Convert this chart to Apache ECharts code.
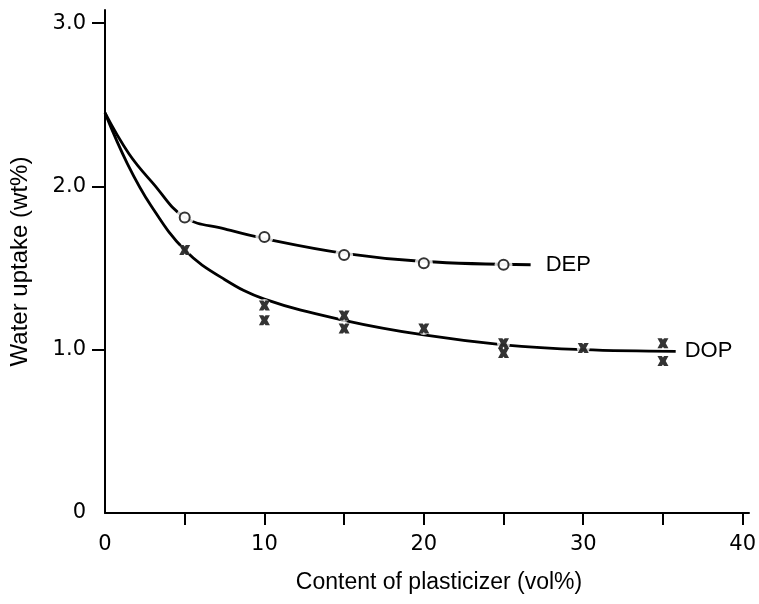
<!DOCTYPE html>
<html>
<head>
<meta charset="utf-8">
<script src="https://cdn.jsdelivr.net/npm/echarts@6/dist/echarts.min.js"></script>
<style>html,body{margin:0;padding:0;background:#fff;}#c{width:759px;height:604px;}</style>
</head>
<body>
<div id="c"></div>
<script>
// Measured points
const depX = [5, 10, 15, 20, 25];
const depY = [1.81, 1.69, 1.58, 1.53, 1.52];
const dopX = [5, 10, 10, 15, 15, 20, 25, 25, 30, 35, 35];
const dopY = [1.61, 1.27, 1.18, 1.21, 1.13, 1.13, 1.04, 0.98, 1.01, 1.04, 0.93];
// Hand-drawn fitted curves
const depCurveX = [0, 1.5, 3, 5, 7.5, 10, 15, 20, 26.7];
const depCurveY = [2.45, 2.20, 2.02, 1.81, 1.74, 1.68, 1.59, 1.54, 1.52];
const dopCurveX = [0, 1.4, 2.9, 5, 7.5, 10, 15, 20, 25, 30, 35.8];
const dopCurveY = [2.45, 2.14, 1.88, 1.61, 1.43, 1.31, 1.18, 1.09, 1.03, 1.00, 0.99];
// Axis ticks / labels
const xTicks = [5, 10, 15, 20, 25, 30, 35, 40];
const xLabels = [0, 10, 20, 30, 40];
const yTicks = [1, 2, 3];
const yLabels = [0, 1, 2, 3];

const zip = (a, b) => a.map((v, i) => [v, b[i]]);
const crossPath = 'path://M0,0 L4,0 L5,1.5 L6,0 L10,0 L7.5,5 L10,10 L6,10 L5,8.5 L4,10 L0,10 L2.5,5 Z';

const chart = echarts.init(document.getElementById('c'), null, {renderer: 'canvas'});
chart.setOption({
  animation: false,
  backgroundColor: '#fff',
  grid: {left: 104, right: 1, top: 10, bottom: 91, containLabel: false},
  xAxis: {
    type: 'value', min: 0, max: 40.4,
    name: 'Content of plasticizer (vol%)', nameLocation: 'middle', nameGap: 58,
    nameTextStyle: {fontFamily: 'Liberation Sans', fontSize: 23, color: '#000', padding: [0, 0, 0, 24]},
    axisLine: {show: true, lineStyle: {color: '#000', width: 2}},
    axisTick: {show: true, length: 12, lineStyle: {color: '#000', width: 2}, customValues: xTicks},
    axisLabel: {customValues: xLabels, margin: 21, fontFamily: 'DejaVu Sans', fontSize: 21, color: '#000'},
    splitLine: {show: false}
  },
  yAxis: {
    type: 'value', min: 0, max: 3.08,
    name: 'Water uptake (wt%)', nameLocation: 'middle', nameGap: 73, nameRotate: 90,
    nameTextStyle: {fontFamily: 'Liberation Sans', fontSize: 24, color: '#000'},
    axisLine: {show: true, lineStyle: {color: '#000', width: 2}},
    axisTick: {show: true, length: 13, lineStyle: {color: '#000', width: 2}, customValues: yTicks},
    axisLabel: {customValues: yLabels, margin: 19, fontFamily: 'DejaVu Sans', fontSize: 21, color: '#000',
      formatter: v => v === 0 ? '0' : v.toFixed(1)},
    splitLine: {show: false}
  },
  series: [
    {
      type: 'line', data: zip(depCurveX, depCurveY), smooth: 0.4,
      showSymbol: false, symbol: 'none', z: 2,
      lineStyle: {color: '#000', width: 2.8},
      endLabel: {show: true, formatter: 'DEP', distance: 15, fontFamily: 'Liberation Sans', fontSize: 22, color: '#000'}
    },
    {
      type: 'line', data: zip(dopCurveX, dopCurveY), smooth: 0.4,
      showSymbol: false, symbol: 'none', z: 2,
      lineStyle: {color: '#000', width: 2.8},
      endLabel: {show: true, formatter: 'DOP', distance: 9, fontFamily: 'Liberation Sans', fontSize: 22, color: '#000'}
    },
    {
      type: 'scatter', data: zip(depX, depY), symbol: 'circle', symbolSize: 18, z: 3, silent: true,
      itemStyle: {color: '#fff', borderWidth: 0}
    },
    {
      type: 'scatter', data: zip(dopX, dopY), symbol: 'circle', symbolSize: 13, z: 3, silent: true,
      itemStyle: {color: '#fff', borderWidth: 0}
    },
    {
      type: 'scatter', data: zip(depX, depY), symbol: 'circle', symbolSize: 10, z: 4,
      itemStyle: {color: '#fff', borderColor: '#000', borderWidth: 2}
    },
    {
      type: 'scatter', data: zip(dopX, dopY), symbol: crossPath, symbolSize: [11, 10], z: 4,
      itemStyle: {color: '#000'}
    }
  ]
});
</script>
</body>
</html>
